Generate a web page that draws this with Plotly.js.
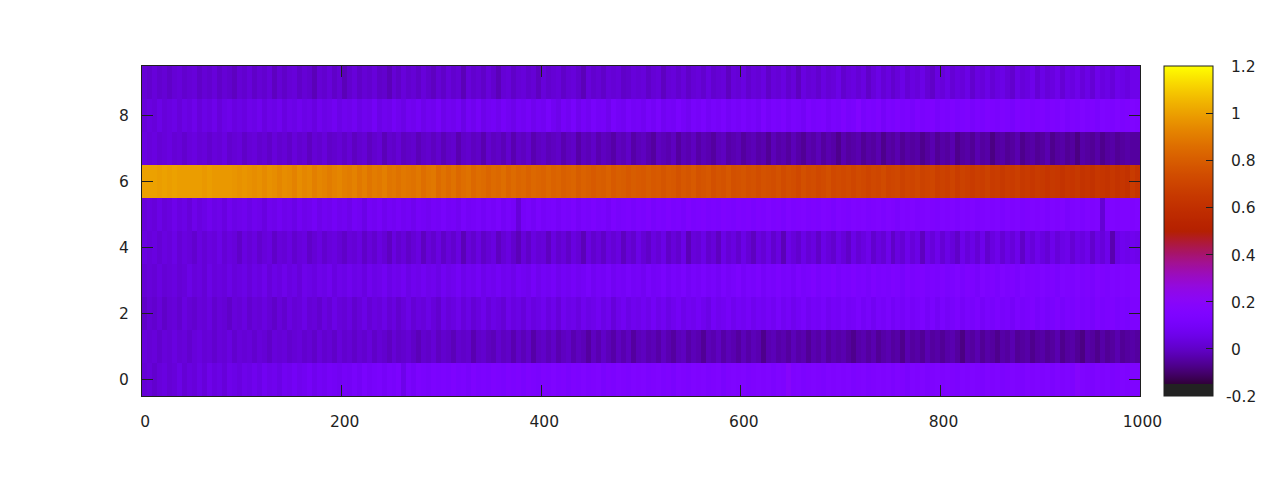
<!DOCTYPE html>
<html><head><meta charset="utf-8">
<script src="https://cdn.plot.ly/plotly-3.0.1.min.js"></script>
<style>html,body{margin:0;padding:0;background:#fff}#chart{width:1280px;height:480px}</style>
</head><body><div id="chart"></div>
<script>
// Values read by eye per 5-unit column, rows y=0..9
const row0=[.02,.03,.01,.03,.04,.02,.03,.05,.02,.04,.03,.05,.03,.06,.04,.05,.03,.06,.05,.04,
.06,.05,.07,.05,.08,.06,.07,.05,.08,.07,.09,.07,.08,.10,.07,.09,.08,.10,.09,.08,
.10,.09,.11,.09,.12,.10,.11,.12,.10,.12,.11,.13,.06,.12,.10,.13,.12,.11,.13,.12,
.13,.12,.14,.12,.13,.11,.14,.12,.13,.12,.14,.13,.12,.14,.13,.14,.12,.14,.13,.12,
.14,.13,.15,.13,.14,.12,.14,.13,.15,.13,.14,.15,.12,.14,.13,.15,.14,.13,.15,.14,
.15,.13,.14,.15,.13,.14,.12,.15,.14,.13,.15,.14,.15,.13,.14,.15,.12,.14,.15,.14,
.15,.13,.14,.15,.14,.15,.13,.15,.14,.19,.14,.15,.13,.14,.15,.14,.13,.15,.14,.15,
.14,.15,.13,.14,.15,.13,.14,.15,.14,.15,.13,.15,.14,.12,.15,.14,.15,.13,.14,.15,
.14,.15,.14,.13,.15,.14,.15,.14,.13,.15,.14,.15,.13,.14,.15,.14,.13,.15,.14,.15,
.14,.15,.13,.15,.14,.15,.14,.18,.15,.14,.13,.15,.14,.15,.13,.14,.15,.14,.15,.15];
const row1=[.03,.02,.03,.01,.03,.02,.04,.02,.03,.01,.03,.04,.02,.03,.01,.03,.02,.04,.01,.03,
.02,.03,.01,.03,.02,.00,.03,.02,.03,.01,.02,.03,.01,.02,.00,.03,.01,.02,.00,.03,
.01,.02,.00,.02,.01,.03,.00,.02,.01,-.01,.02,.00,.01,.02,.00,-.02,.01,.00,.02,-.01,
.01,.00,-.02,.01,.00,.01,-.03,.00,.01,-.01,-.02,.01,-.01,.00,-.03,.00,-.02,.00,-.04,-.01,
.00,-.02,.00,-.03,-.01,.00,-.03,-.01,-.02,-.05,-.01,-.03,.00,-.02,-.04,-.01,-.03,-.01,-.05,-.02,
-.01,-.03,-.02,-.04,-.01,-.03,-.05,-.02,-.01,-.04,-.02,-.03,-.06,-.02,-.03,-.01,-.04,-.02,-.03,-.05,
-.02,-.04,-.02,-.03,-.07,-.03,-.02,-.04,-.03,-.05,-.02,-.04,-.03,-.06,-.03,-.04,-.02,-.05,-.03,-.04,
-.03,-.05,-.07,-.04,-.03,-.05,-.03,-.06,-.04,-.03,-.05,-.04,-.07,-.03,-.05,-.04,-.06,-.03,-.05,-.04,
-.06,-.04,-.03,-.05,-.08,-.04,-.05,-.03,-.06,-.04,-.05,-.07,-.04,-.05,-.03,-.06,-.05,-.04,-.07,-.05,
-.04,-.06,-.05,-.03,-.07,-.05,-.04,-.06,-.08,-.04,-.05,-.07,-.04,-.06,-.05,-.03,-.06,-.05,-.04,-.05];
const row2=[.00,.02,.01,.03,.00,.02,.03,.01,.04,.02,.01,.03,.02,.04,.01,.03,.02,.00,.03,.02,
.04,.01,.03,.02,.04,.02,.00,.03,.01,.04,.02,.03,.05,.02,.03,.01,.04,.02,.05,.03,
.02,.04,.01,.03,.05,.02,.04,.03,.05,.02,.04,.01,.03,.05,.02,.04,.03,.05,.03,.01,
.05,.03,.04,.06,.03,.05,.02,.04,.06,.03,.05,.04,.02,.06,.04,.05,.03,.06,.04,.05,
.07,.04,.06,.03,.07,.05,.06,.04,.07,.05,.06,.08,.05,.07,.03,.06,.08,.05,.07,.06,
.08,.06,.09,.06,.08,.05,.07,.09,.06,.08,.07,.09,.07,.05,.09,.07,.08,.10,.07,.09,
.08,.10,.07,.09,.08,.10,.08,.11,.08,.10,.07,.09,.11,.08,.10,.09,.11,.08,.10,.09,
.11,.09,.10,.12,.09,.11,.08,.11,.10,.12,.09,.11,.10,.12,.10,.11,.13,.10,.12,.09,
.12,.10,.11,.13,.10,.12,.11,.13,.10,.12,.11,.13,.11,.12,.10,.13,.11,.12,.14,.11,
.13,.11,.12,.14,.11,.13,.12,.14,.12,.13,.11,.14,.12,.13,.14,.12,.13,.12,.14,.14];
const row3=[.02,.03,.02,.04,.02,.03,.04,.02,.03,.05,.03,.04,.02,.05,.03,.04,.03,.05,.03,.04,
.05,.03,.05,.04,.06,.03,.05,.04,.06,.04,.05,.03,.06,.05,.04,.06,.05,.07,.04,.06,
.05,.07,.05,.06,.04,.07,.05,.06,.08,.05,.07,.06,.08,.05,.07,.06,.08,.06,.07,.05,
.08,.06,.07,.09,.06,.08,.07,.09,.06,.08,.07,.09,.07,.08,.06,.09,.08,.07,.10,.07,
.09,.08,.10,.07,.09,.08,.10,.08,.09,.11,.08,.10,.09,.11,.08,.10,.09,.11,.09,.10,
.08,.11,.09,.10,.12,.09,.11,.10,.12,.09,.11,.10,.12,.10,.11,.09,.12,.10,.11,.13,
.10,.12,.11,.13,.10,.12,.11,.13,.11,.12,.10,.13,.11,.12,.14,.11,.13,.12,.14,.11,
.13,.12,.14,.12,.13,.11,.14,.12,.13,.12,.14,.13,.11,.14,.12,.13,.14,.12,.13,.12,
.14,.12,.13,.15,.12,.14,.13,.11,.15,.13,.14,.12,.15,.13,.14,.12,.15,.13,.14,.13,
.15,.13,.14,.12,.15,.14,.13,.15,.13,.14,.12,.15,.14,.13,.15,.14,.15,.14,.15,.15];
const row4=[.04,.03,.04,.02,.04,.03,.05,.02,.04,.03,.01,.04,.02,.04,.03,.05,.02,.04,.03,.00,
.04,.02,.04,.01,.03,.04,.00,.03,.02,.04,.01,.03,.04,.00,.02,.04,.01,.03,.04,.02,
.00,.03,.02,.04,.00,.03,.01,.04,.02,-.01,.04,.01,.03,.00,.02,.04,-.01,.03,.01,.04,
.00,.03,.01,.04,-.02,.03,.01,.04,.00,.02,.04,-.01,.02,.04,.01,-.02,.03,.00,.04,.02,
.03,-.01,.04,.01,.03,.00,.04,.02,-.02,.04,.01,.03,.00,.04,.02,.04,-.01,.03,.01,.05,
.02,.00,.04,.02,.05,.00,.03,.01,.05,-.02,.03,.02,.05,.01,.03,-.01,.05,.02,.04,.01,
.05,.02,-.01,.04,.02,.05,.01,.04,-.02,.05,.03,.01,.05,.02,.04,.00,.05,.03,.01,.05,
.03,.00,.05,.02,.04,.06,.01,.04,.02,.06,.00,.04,.02,.06,.03,.05,-.01,.05,.03,.06,
.02,.05,.03,.00,.06,.03,.05,.02,.06,.01,.04,.06,.02,.05,.03,.06,.00,.05,.03,.06,
.04,.02,.06,.03,.05,.06,.02,.05,.04,.06,.01,.05,.03,.06,-.03,.05,.07,.06,.07,.06];
const row5=[.03,.04,.03,.05,.03,.04,.06,.04,.05,.03,.06,.04,.05,.07,.05,.06,.04,.07,.05,.06,
.07,.05,.07,.06,.04,.07,.06,.08,.06,.07,.05,.08,.06,.07,.09,.06,.08,.07,.09,.07,
.08,.06,.09,.08,.05,.09,.08,.10,.07,.09,.08,.10,.08,.09,.07,.10,.09,.08,.10,.09,
.11,.09,.10,.08,.11,.09,.10,.11,.09,.11,.10,.12,.09,.11,.10,.03,.10,.11,.09,.12,
.10,.11,.12,.10,.12,.11,.13,.10,.12,.11,.13,.11,.12,.10,.13,.11,.12,.13,.11,.13,
.12,.14,.11,.13,.12,.14,.12,.13,.11,.14,.12,.13,.14,.12,.13,.12,.14,.13,.12,.14,
.13,.14,.12,.14,.13,.15,.13,.14,.12,.15,.13,.14,.15,.13,.14,.13,.15,.14,.12,.15,
.14,.13,.15,.14,.15,.13,.14,.15,.13,.15,.14,.12,.15,.14,.15,.13,.14,.15,.14,.13,
.15,.14,.15,.13,.15,.14,.15,.13,.14,.15,.14,.15,.13,.15,.14,.15,.13,.14,.15,.14,
.15,.13,.15,.14,.15,.12,.14,.15,.13,.15,.14,.15,.02,.14,.15,.14,.15,.15,.14,.15];
const row6=[1.00,1.00,1.00,.99,1.00,.99,1.00,.99,.99,.99,.99,.99,.98,.99,.98,.98,.98,.98,.97,.96,
.97,.96,.95,.96,.94,.96,.95,.93,.95,.94,.92,.95,.93,.94,.91,.93,.92,.90,.92,.93,
.91,.90,.92,.89,.91,.88,.90,.89,.91,.88,.89,.87,.89,.88,.87,.89,.86,.88,.89,.85,
.87,.85,.87,.84,.86,.87,.84,.86,.85,.83,.85,.84,.86,.83,.85,.83,.84,.82,.84,.83,
.82,.84,.82,.83,.81,.82,.83,.80,.82,.81,.79,.81,.80,.82,.79,.81,.80,.78,.80,.79,
.78,.80,.78,.79,.77,.79,.78,.76,.78,.77,.79,.76,.77,.78,.75,.77,.76,.78,.75,.76,
.77,.75,.76,.74,.76,.75,.74,.76,.73,.75,.74,.72,.75,.73,.74,.72,.73,.75,.72,.73,
.72,.73,.71,.73,.72,.70,.72,.71,.73,.70,.71,.72,.69,.71,.70,.72,.69,.70,.71,.68,
.69,.68,.70,.67,.69,.68,.66,.68,.67,.69,.66,.67,.65,.67,.66,.68,.65,.66,.64,.66,
.65,.63,.65,.64,.62,.64,.63,.65,.62,.63,.61,.64,.63,.62,.64,.62,.63,.61,.66,.63];
const row7=[.04,.03,.04,.02,.03,.04,.02,.03,.01,.03,.04,.02,.03,.01,.03,.02,.04,.01,.02,.03,
.00,.02,.03,.01,.02,.00,.03,.01,.02,.00,.03,.01,.02,-.01,.02,.01,.03,.00,.01,.02,
.00,.02,-.01,.01,.02,-.01,.01,.02,-.02,.01,.00,.02,-.01,.00,.01,-.02,.00,.01,-.01,.01,
-.02,.00,.01,-.03,.00,.01,-.01,.00,-.03,.01,-.01,.00,-.02,.01,-.03,.00,-.01,.01,-.03,-.01,
.00,-.02,-.01,.00,-.03,-.01,.00,-.04,-.01,-.02,.00,-.03,-.01,-.02,-.04,-.01,-.02,.00,-.04,-.02,
-.01,-.03,-.05,-.01,-.02,-.03,-.01,-.05,-.02,-.03,-.01,-.04,-.02,-.03,-.05,-.02,-.01,-.04,-.03,-.02,
-.05,-.03,-.02,-.04,-.03,-.06,-.02,-.04,-.03,-.05,-.02,-.04,-.06,-.03,-.04,-.02,-.05,-.03,-.04,-.07,
-.03,-.05,-.04,-.03,-.06,-.04,-.05,-.03,-.07,-.04,-.05,-.03,-.06,-.04,-.05,-.04,-.07,-.05,-.03,-.06,
-.04,-.05,-.03,-.07,-.05,-.04,-.06,-.03,-.05,-.04,-.08,-.05,-.04,-.06,-.05,-.03,-.07,-.05,-.04,-.06,
-.05,-.03,-.07,-.05,-.04,-.06,-.05,-.08,-.04,-.05,-.06,-.04,-.07,-.05,-.04,-.06,-.05,-.04,-.05,-.05];
const row8=[.03,.04,.03,.05,.03,.04,.05,.03,.05,.04,.06,.03,.05,.04,.06,.03,.05,.06,.04,.05,
.04,.06,.05,.07,.04,.06,.05,.07,.04,.06,.05,.07,.05,.06,.04,.07,.05,.06,.08,.05,
.07,.06,.08,.05,.07,.06,.09,.05,.07,.06,.09,.07,.05,.08,.07,.09,.06,.08,.07,.10,
.06,.08,.07,.09,.05,.09,.07,.10,.06,.08,.09,.07,.10,.08,.06,.09,.08,.10,.07,.09,
.08,.11,.08,.06,.10,.08,.11,.07,.10,.08,.11,.09,.10,.07,.11,.09,.08,.11,.09,.10,
.08,.11,.09,.12,.08,.10,.09,.12,.10,.08,.11,.10,.12,.09,.11,.10,.12,.09,.11,.10,
.12,.10,.11,.09,.13,.10,.12,.11,.13,.10,.12,.11,.09,.13,.11,.12,.13,.10,.12,.11,
.14,.11,.12,.16,.11,.13,.12,.14,.10,.13,.12,.14,.12,.13,.11,.14,.12,.13,.14,.11,
.13,.12,.14,.12,.13,.14,.11,.13,.12,.14,.13,.12,.14,.13,.11,.14,.13,.14,.12,.13,
.14,.12,.14,.13,.15,.12,.14,.13,.15,.13,.14,.12,.15,.14,.13,.15,.13,.14,.15,.14];
const row9=[.02,.01,.03,.01,.02,.00,.02,.03,.01,.02,.03,.00,.02,.01,.03,.00,.02,.01,-.01,.02,
.01,.03,.00,.02,.01,.03,-.01,.02,.00,.02,.03,.00,.02,.01,-.02,.02,.01,.03,.00,.02,
-.02,.01,.03,.00,.02,.01,.03,.00,.01,-.02,.02,.00,.03,.01,.02,.00,.03,.01,-.01,.02,
.00,.03,.01,.02,-.02,.03,.01,.02,.00,.03,.01,-.02,.02,.03,.00,.02,.03,.01,.02,-.01,
.03,.01,.02,.03,.00,.02,.03,.01,-.02,.03,.01,.02,.00,.03,.02,.03,.00,.01,.03,.02,
.03,.00,.02,.03,-.01,.02,.03,.01,.03,.00,.02,.03,.01,.04,.01,.02,.03,-.01,.03,.02,
.04,.01,.03,.02,.04,.00,.03,.02,.04,.01,.03,-.01,.04,.02,.03,.01,.04,.02,.03,.05,
.01,.03,.04,.02,.04,.00,.03,.05,.02,.04,.01,.03,.05,.02,.04,.03,.05,.02,.00,.04,
.03,.05,.02,.04,.03,.05,.01,.04,.03,.05,.02,.04,.05,.03,.01,.05,.03,.04,.06,.02,
.05,.03,.04,.06,.02,.05,.04,.06,.03,.05,.02,.06,.04,.05,.03,.06,.05,.04,.06,.06];
const rows=[row0,row1,row2,row3,row4,row5,row6,row7,row8,row9];
const xTicks=[0,200,400,600,800,1000];
// thin spaces pad each label so it sits right of its tick, as in the reference
const xLabels=['\u2009\u20090','\u2009\u2009200','\u2009\u2009400','\u2009\u2009600','\u2009\u2009800','\u00a01000'];
const yTicks=[0,2,4,6,8];
const cbTicks=[-0.2,0,0.2,0.4,0.6,0.8,1,1.2];
const cbLabels=['-0.2','0','0.2','0.4','0.6','0.8','1','1.2'];

// gnuplot's default pm3d palette (rgbformulae 7,5,15) as a colour scale
const stops=[[0,'#222222'],[0.036,'#222222']];
for(let i=0;i<=100;i++){const t=(i===0?0.0361:0.036+(1-0.036)*i/100);
  const r=Math.sqrt(t),g=t*t*t,b=Math.max(0,Math.sin(2*Math.PI*t));
  stops.push([t,`rgb(${Math.round(r*255)},${Math.round(g*255)},${Math.round(b*255)})`]);}

const L=142,T=66,R=1140,B=396,W=1280,H=480,CB0=1164,CB1=1213,ink='#1f1f1f';
const fnt={family:'"DejaVu Sans",sans-serif',size:15.5,color:ink};
const px=v=>(v-L)/(R-L);
const zToPaper=z=>(z+0.2)/1.4;

const shapes=cbTicks.slice(1,-1).map(z=>({type:'line',xref:'paper',yref:'paper',
  x0:px(CB0),x1:px(CB0+7),y0:zToPaper(z),y1:zToPaper(z),line:{color:ink,width:1}}));
const annotations=cbTicks.map((z,i)=>({xref:'paper',yref:'paper',x:px(cbLabels[i][0]==='-'?1224:1229),
  y:zToPaper(z),xanchor:'left',yanchor:'middle',showarrow:false,text:cbLabels[i],font:fnt,yshift:-1}));

Plotly.newPlot('chart',[{type:'heatmap',z:rows,x0:2.5,dx:5,y0:0,dy:1,zmin:-0.2,zmax:1.2,
  colorscale:stops,zsmooth:false,hoverinfo:'skip',
  colorbar:{x:px(CB0),xanchor:'left',xpad:0,ypad:0,y:0.5,yanchor:'middle',len:1,lenmode:'fraction',
    thickness:CB1-CB0,thicknessmode:'pixels',outlinecolor:ink,outlinewidth:1,
    tickmode:'array',tickvals:cbTicks,ticktext:cbLabels,ticks:'inside',ticklen:7,tickwidth:1,tickcolor:ink,
    showticklabels:false}}],
 {width:W,height:H,margin:{l:L,r:W-R,t:T,b:H-B,pad:0,autoexpand:false},
  paper_bgcolor:'#fff',plot_bgcolor:'#fff',font:fnt,shapes,annotations,
  xaxis:{range:[0,1000],tickmode:'array',tickvals:xTicks,ticktext:xLabels,ticks:'inside',ticklen:11,tickwidth:1,
    tickcolor:ink,showline:true,linecolor:ink,linewidth:1,mirror:'ticks',showgrid:false,zeroline:false,
    ticklabelstandoff:11,tickfont:fnt},
  yaxis:{range:[-0.5,9.5],tickmode:'array',tickvals:yTicks,ticktext:yTicks.map(String),ticks:'inside',ticklen:11,tickwidth:1,
    tickcolor:ink,showline:true,linecolor:ink,linewidth:1,mirror:'ticks',showgrid:false,zeroline:false,
    ticklabelstandoff:9,tickfont:fnt}},
 {displayModeBar:false,staticPlot:true});
</script></body></html>
